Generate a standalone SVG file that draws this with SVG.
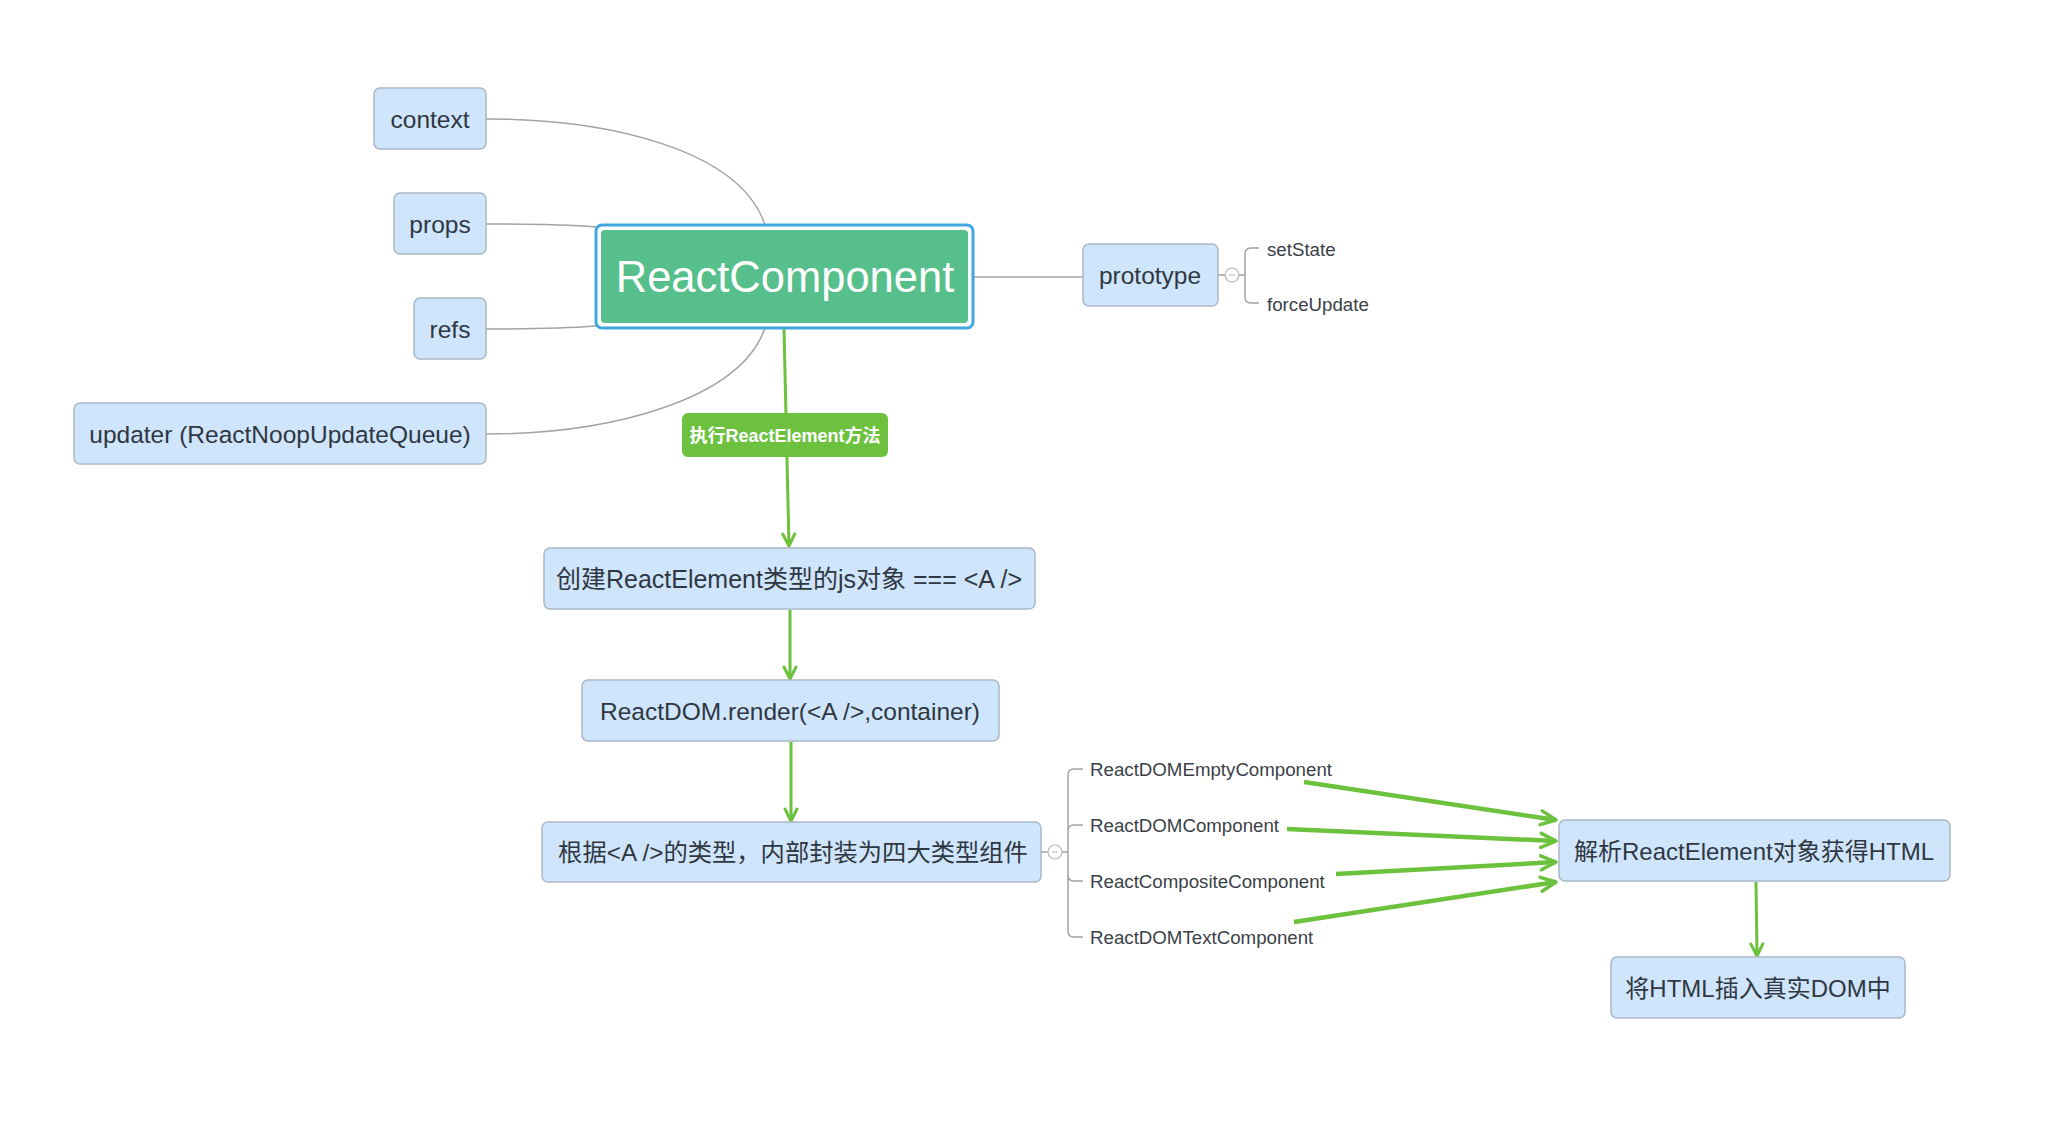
<svg xmlns="http://www.w3.org/2000/svg" width="2062" height="1140" viewBox="0 0 2062 1140">
<style>
.node{fill:#cfe5fb;stroke:#aab8c6;stroke-width:1.5}
.t{font-family:"Liberation Sans","Noto Sans CJK SC",sans-serif;font-size:24.5px;fill:#2f3742;text-anchor:middle}
.c{font-size:24px}
.s{font-family:"Liberation Sans","Noto Sans CJK SC",sans-serif;font-size:18.7px;fill:#3a3f47}
.g{fill:none;stroke:#a3a3a3;stroke-width:1.5}
.gr{fill:none;stroke:#6cc13d;stroke-width:3}
.grt{fill:none;stroke:#6cc13d;stroke-width:4.5}
</style>
<defs>
<marker id="ah" viewBox="0 0 16 16" refX="14" refY="8" markerWidth="16" markerHeight="16" markerUnits="userSpaceOnUse" orient="auto">
<path d="M2,2 L14,8 L2,14" fill="none" stroke="#6cc13d" stroke-width="3" stroke-linecap="round" stroke-linejoin="round"/>
</marker>
<marker id="ah2" viewBox="0 0 20 20" refX="18" refY="10" markerWidth="20" markerHeight="20" markerUnits="userSpaceOnUse" orient="auto">
<path d="M3,3 L18,10 L3,17" fill="none" stroke="#6cc13d" stroke-width="3.5" stroke-linecap="round" stroke-linejoin="round"/>
</marker>
</defs>
<rect width="2062" height="1140" fill="#ffffff"/>
<g id="connectors">
<path class="g" d="M486,119 C610,119 740,150 765,225"/>
<path class="g" d="M486,224 C540,224 570,225 596,227"/>
<path class="g" d="M486,329 C540,329 570,328 596,326"/>
<path class="g" d="M486,434 C610,434 740,400 765,328"/>
<path class="g" d="M973,277 H1083"/>
<path class="g" d="M1218,275 H1225 M1239,275 H1245"/>
<path class="g" d="M1259,248 H1251 Q1245,248 1245,254 V297 Q1245,303 1251,303 H1259"/>
<path class="g" d="M1041,852 H1048 M1062,852 H1068"/>
<path class="g" d="M1083,769 H1074 Q1068,769 1068,775 V931 Q1068,937 1074,937 H1083 M1068,831 Q1068,825 1074,825 H1083 M1068,875 Q1068,881 1074,881 H1083"/>
<path class="gr" d="M784,329 L789,546" marker-end="url(#ah)"/>
<path class="gr" d="M790,610 L790,679" marker-end="url(#ah)"/>
<path class="gr" d="M791,742 L791,821" marker-end="url(#ah)"/>
<path class="gr" d="M1756,882 L1757,956" stroke-width="2.5" marker-end="url(#ah)"/>
<path class="grt" d="M1304,782 L1556,820" marker-end="url(#ah2)"/>
<path class="grt" d="M1287,829 L1556,841" marker-end="url(#ah2)"/>
<path class="grt" d="M1336,874 L1556,862" marker-end="url(#ah2)"/>
<path class="grt" d="M1294,922 L1556,882" marker-end="url(#ah2)"/>
</g>
<g id="collapse1"><circle cx="1232" cy="275" r="7" fill="#fff" stroke="#b5b5b5" stroke-width="1.2"/><path d="M1229,275 H1235" stroke="#b5b5b5" stroke-width="1"/></g>
<g id="collapse2"><circle cx="1055" cy="852" r="7" fill="#fff" stroke="#b5b5b5" stroke-width="1.2"/><path d="M1052,852 H1058" stroke="#b5b5b5" stroke-width="1"/></g>
<g id="context"><rect class="node" x="374" y="88" width="112" height="61" rx="6"/><text class="t" x="430" y="128">context</text></g>
<g id="props"><rect class="node" x="394" y="193" width="92" height="61" rx="6"/><text class="t" x="440" y="233">props</text></g>
<g id="refs"><rect class="node" x="414" y="298" width="72" height="61" rx="6"/><text class="t" x="450" y="338">refs</text></g>
<g id="updater"><rect class="node" x="74" y="403" width="412" height="61" rx="6"/><text class="t" x="280" y="443">updater (ReactNoopUpdateQueue)</text></g>
<g id="reactcomponent"><rect x="596" y="225" width="377" height="103" rx="6" fill="#ffffff" stroke="#41a7e1" stroke-width="3"/><rect x="601" y="230" width="367" height="93" rx="4" fill="#57bf8b"/><text x="785" y="292" font-family="'Liberation Sans','Noto Sans CJK SC',sans-serif" font-size="43.5" fill="#ffffff" text-anchor="middle">ReactComponent</text></g>
<g id="prototype"><rect class="node" x="1083" y="244" width="135" height="62" rx="6"/><text class="t" x="1150" y="284">prototype</text></g>
<g id="setState"><text class="s" x="1267" y="256">setState</text></g>
<g id="forceUpdate"><text class="s" x="1267" y="311">forceUpdate</text></g>
<g id="label"><rect x="682" y="413" width="206" height="44" rx="6" fill="#6cc23f"/><text x="785" y="442" font-family="'Liberation Sans','Noto Sans CJK SC',sans-serif" font-size="18" font-weight="bold" fill="#ffffff" text-anchor="middle">执行ReactElement方法</text></g>
<g id="create"><rect class="node" x="544" y="548" width="491" height="61" rx="6"/><text class="t" x="789" y="588" style="font-size:25px">创建ReactElement类型的js对象 === &lt;A /&gt;</text></g>
<g id="render"><rect class="node" x="582" y="680" width="417" height="61" rx="6"/><text class="t" x="790" y="720">ReactDOM.render(&lt;A /&gt;,container)</text></g>
<g id="wrap"><rect class="node" x="542" y="822" width="499" height="60" rx="6"/><text class="t" x="793" y="861" style="font-size:24.3px">根据&lt;A /&gt;的类型，内部封装为四大类型组件</text></g>
<g id="empty"><text class="s" x="1090" y="776">ReactDOMEmptyComponent</text></g>
<g id="domcomp"><text class="s" x="1090" y="832">ReactDOMComponent</text></g>
<g id="composite"><text class="s" x="1090" y="888">ReactCompositeComponent</text></g>
<g id="textcomp"><text class="s" x="1090" y="944">ReactDOMTextComponent</text></g>
<g id="parse"><rect class="node" x="1559" y="820" width="391" height="61" rx="6"/><text class="t c" x="1754" y="860">解析ReactElement对象获得HTML</text></g>
<g id="insert"><rect class="node" x="1611" y="957" width="294" height="61" rx="6"/><text class="t c" x="1758" y="997">将HTML插入真实DOM中</text></g>
</svg>
